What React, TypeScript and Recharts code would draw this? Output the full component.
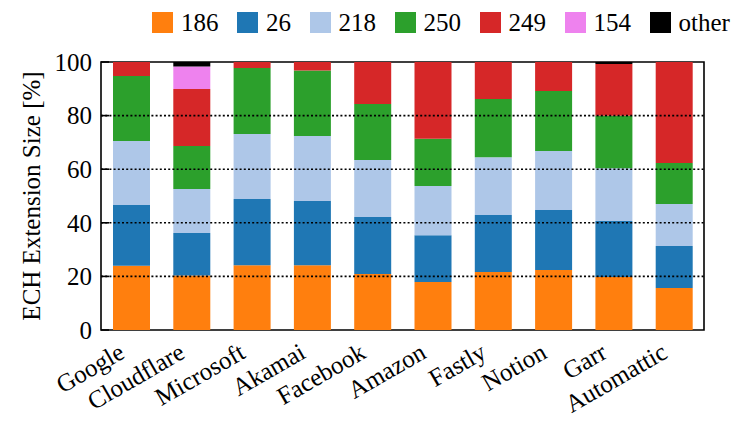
import React from 'react';
import {
  BarChart,
  Bar,
  XAxis,
  YAxis,
  Legend,
  ReferenceLine,
  ReferenceArea,
} from 'recharts';

const providers = [
  'Google',
  'Cloudflare',
  'Microsoft',
  'Akamai',
  'Facebook',
  'Amazon',
  'Fastly',
  'Notion',
  'Garr',
  'Automattic',
];

// share of each ECH extension size per provider, in %
const size186 = [24.0, 20.3, 24.2, 24.2, 20.9, 17.9, 21.6, 22.4, 19.8, 15.7];
const size26 = [22.6, 15.9, 24.7, 23.9, 21.3, 17.5, 21.3, 22.4, 20.9, 15.6];
const size218 = [23.9, 16.4, 24.2, 24.3, 21.2, 18.3, 21.6, 22.0, 19.7, 15.7];
const size250 = [24.3, 16.1, 24.7, 24.4, 20.9, 17.7, 21.7, 22.4, 19.5, 15.3];
const size249 = [5.2, 21.2, 2.2, 3.2, 15.7, 28.6, 13.8, 10.8, 19.4, 37.7];
const size154 = [0, 8.4, 0, 0, 0, 0, 0, 0, 0, 0];
const sizeOther = [0, 1.7, 0, 0, 0, 0, 0, 0, 0.7, 0];

const seriesNames = ['186', '26', '218', '250', '249', '154', 'other'];
const seriesValues = [size186, size26, size218, size250, size249, size154, sizeOther];
const seriesColors = ['#ff7f0e', '#1f77b4', '#aec7e8', '#2ca02c', '#d62728', '#ee82ee', '#000000'];

const yTicks = [0, 20, 40, 60, 80, 100];
const gridLevels = [20, 40, 60, 80];

const data = providers.map((name, i) => {
  const row: Record<string, string | number> = { name };
  seriesNames.forEach((s, j) => {
    row[s] = seriesValues[j][i];
  });
  return row;
});

const FONT = 'Liberation Serif';

const XTick = (props: any) => {
  const { x, y, payload } = props;
  return (
    <text
      transform={`translate(${x - 5}, ${y + 27}) rotate(-30)`}
      textAnchor="end"
      fontSize={25}
      fontFamily={FONT}
      fill="#000"
    >
      {payload.value}
    </text>
  );
};

const YTick = (props: any) => {
  const { x, y, payload } = props;
  return (
    <g>
      <line x1={x} x2={x + 8} y1={y} y2={y} stroke="#000" strokeWidth={1.6} />
      <text
        x={x - 9}
        y={y}
        dy="0.35em"
        textAnchor="end"
        fontSize={25}
        fontFamily={FONT}
        fill="#000"
      >
        {payload.value}
      </text>
    </g>
  );
};

const YLabel = () => (
  <text
    transform="translate(40, 196) rotate(-90)"
    textAnchor="middle"
    fontSize={25}
    fontFamily={FONT}
    fill="#000"
  >
    ECH Extension Size [%]
  </text>
);

const LegendContent = () => (
  <div style={{ display: 'flex', alignItems: 'center', fontFamily: FONT, fontSize: 25, lineHeight: 1 }}>
    {seriesNames.map((s, i) => (
      <div key={s} style={{ display: 'flex', alignItems: 'center', marginRight: 18.5 }}>
        <span
          style={{ display: 'inline-block', width: 21, height: 21, background: seriesColors[i], marginRight: 8 }}
        />
        <span>{s}</span>
      </div>
    ))}
  </div>
);

const App: React.FC = () => {
  return (
    <div style={{ position: 'absolute', left: 0, top: 0, width: 741, height: 421, background: '#fff' }}>
      <BarChart
        width={741}
        height={421}
        data={data}
        margin={{ top: 62, right: 37, left: 0, bottom: 0 }}
      >
        <XAxis
          dataKey="name"
          height={91}
          axisLine={false}
          tickLine={false}
          tickSize={0}
          tickMargin={0}
          interval={0}
          tick={(p: any) => <XTick {...p} />}
        />
        <YAxis
          width={101}
          domain={[0, 100]}
          ticks={yTicks}
          axisLine={false}
          tickLine={false}
          tickSize={0}
          tickMargin={0}
          tick={(p: any) => <YTick {...p} />}
          label={() => <YLabel />}
        />
        <Legend
          layout="horizontal"
          verticalAlign="middle"
          align="center"
          wrapperStyle={{ top: 10, left: 152, width: 600 }}
          content={() => <LegendContent />}
        />
        {seriesNames.map((s, i) => (
          <Bar
            key={s}
            dataKey={s}
            stackId="a"
            fill={seriesColors[i]}
            barSize={37}
            isAnimationActive={false}
          />
        ))}
        {gridLevels.map((v) => (
          <ReferenceLine key={v} y={v} stroke="#000" strokeWidth={1.6} strokeDasharray="2 2.2" />
        ))}
        <ReferenceArea y1={0} y2={100} fill="none" fillOpacity={0} stroke="#000" strokeWidth={1.6} />
      </BarChart>
    </div>
  );
};

export default App;
